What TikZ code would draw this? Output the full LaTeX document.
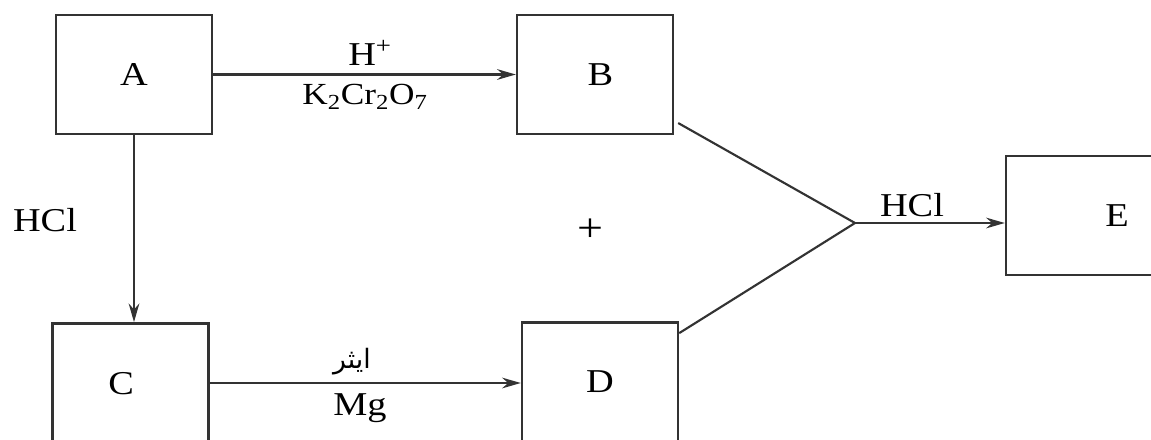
\documentclass[tikz,border=0pt]{standalone}
\usepackage{fontspec}
\setmainfont{Liberation Serif}[FakeStretch=1.15]
\newfontfamily\arabicfont[Script=Arabic]{DejaVu Sans}
\TeXXeTstate=1
\usetikzlibrary{arrows.meta}
\begin{document}
\begin{tikzpicture}[x=0.75pt,y=-0.75pt,
  box/.style={draw=black!80, line width=1.8pt, minimum width=117pt, minimum height=89pt, inner sep=0pt, font=\fontsize{25}{29}\selectfont},
  lbl/.style={inner sep=0pt, font=\fontsize{25}{29}\selectfont},
  conn/.style={draw=black!80, line width=1.6pt},
  arr/.style={conn, -{Stealth[length=14pt,width=8pt]}}]
\useasboundingbox (0,0) rectangle (1151,439);
\clip (0,0) rectangle (1151,439);
\node[box] (A) at (134,74.5) {A};
\node[box] (B) at (595,74.5) {\hspace*{8pt}B};
\node[box, minimum height=91pt] (C) at (130.5,384) {\raisebox{-3pt}{C}\hspace*{14pt}};
\node[box, minimum height=91pt] (D) at (600,383) {\raisebox{2pt}{D}};
\node[box, minimum width=166.5pt] (E) at (1117,215.5) {E};
\coordinate (apex) at (855,223);
\draw[arr] (A.east) -- (B.west);
\draw[arr] (A.south) -- (A.south |- C.north);
\draw[arr] (C.north east |- 0,383) -- (D.west |- 0,383);
\draw[conn] ([shift={(4,-12)}]B.south east) -- (apex);
\draw[conn] ([shift={(0,12)}]D.north east) -- (apex);
\draw[arr] (apex) -- (apex -| E.west);
\node[lbl] (hplus) at (370,53) {H\textsuperscript{+}};
\node[lbl, font=\fontsize{23}{27}\selectfont] (kcr) at (365,97) {K\textsubscript{2}Cr\textsubscript{2}O\textsubscript{7}};
\node[lbl] (hcl1) at (45,220) {HCl};
\node[lbl, font=\fontsize{30}{34}\selectfont] (plus) at (590,230) {+};
\node[lbl] (hcl2) at (912,205) {HCl};
\node[inner sep=0pt, font=\fontsize{20}{24}\arabicfont] (ether) at (352,362) {\beginR ایثر\endR};
\node[lbl] (mg) at (360,408) {Mg};
\end{tikzpicture}
\end{document}
